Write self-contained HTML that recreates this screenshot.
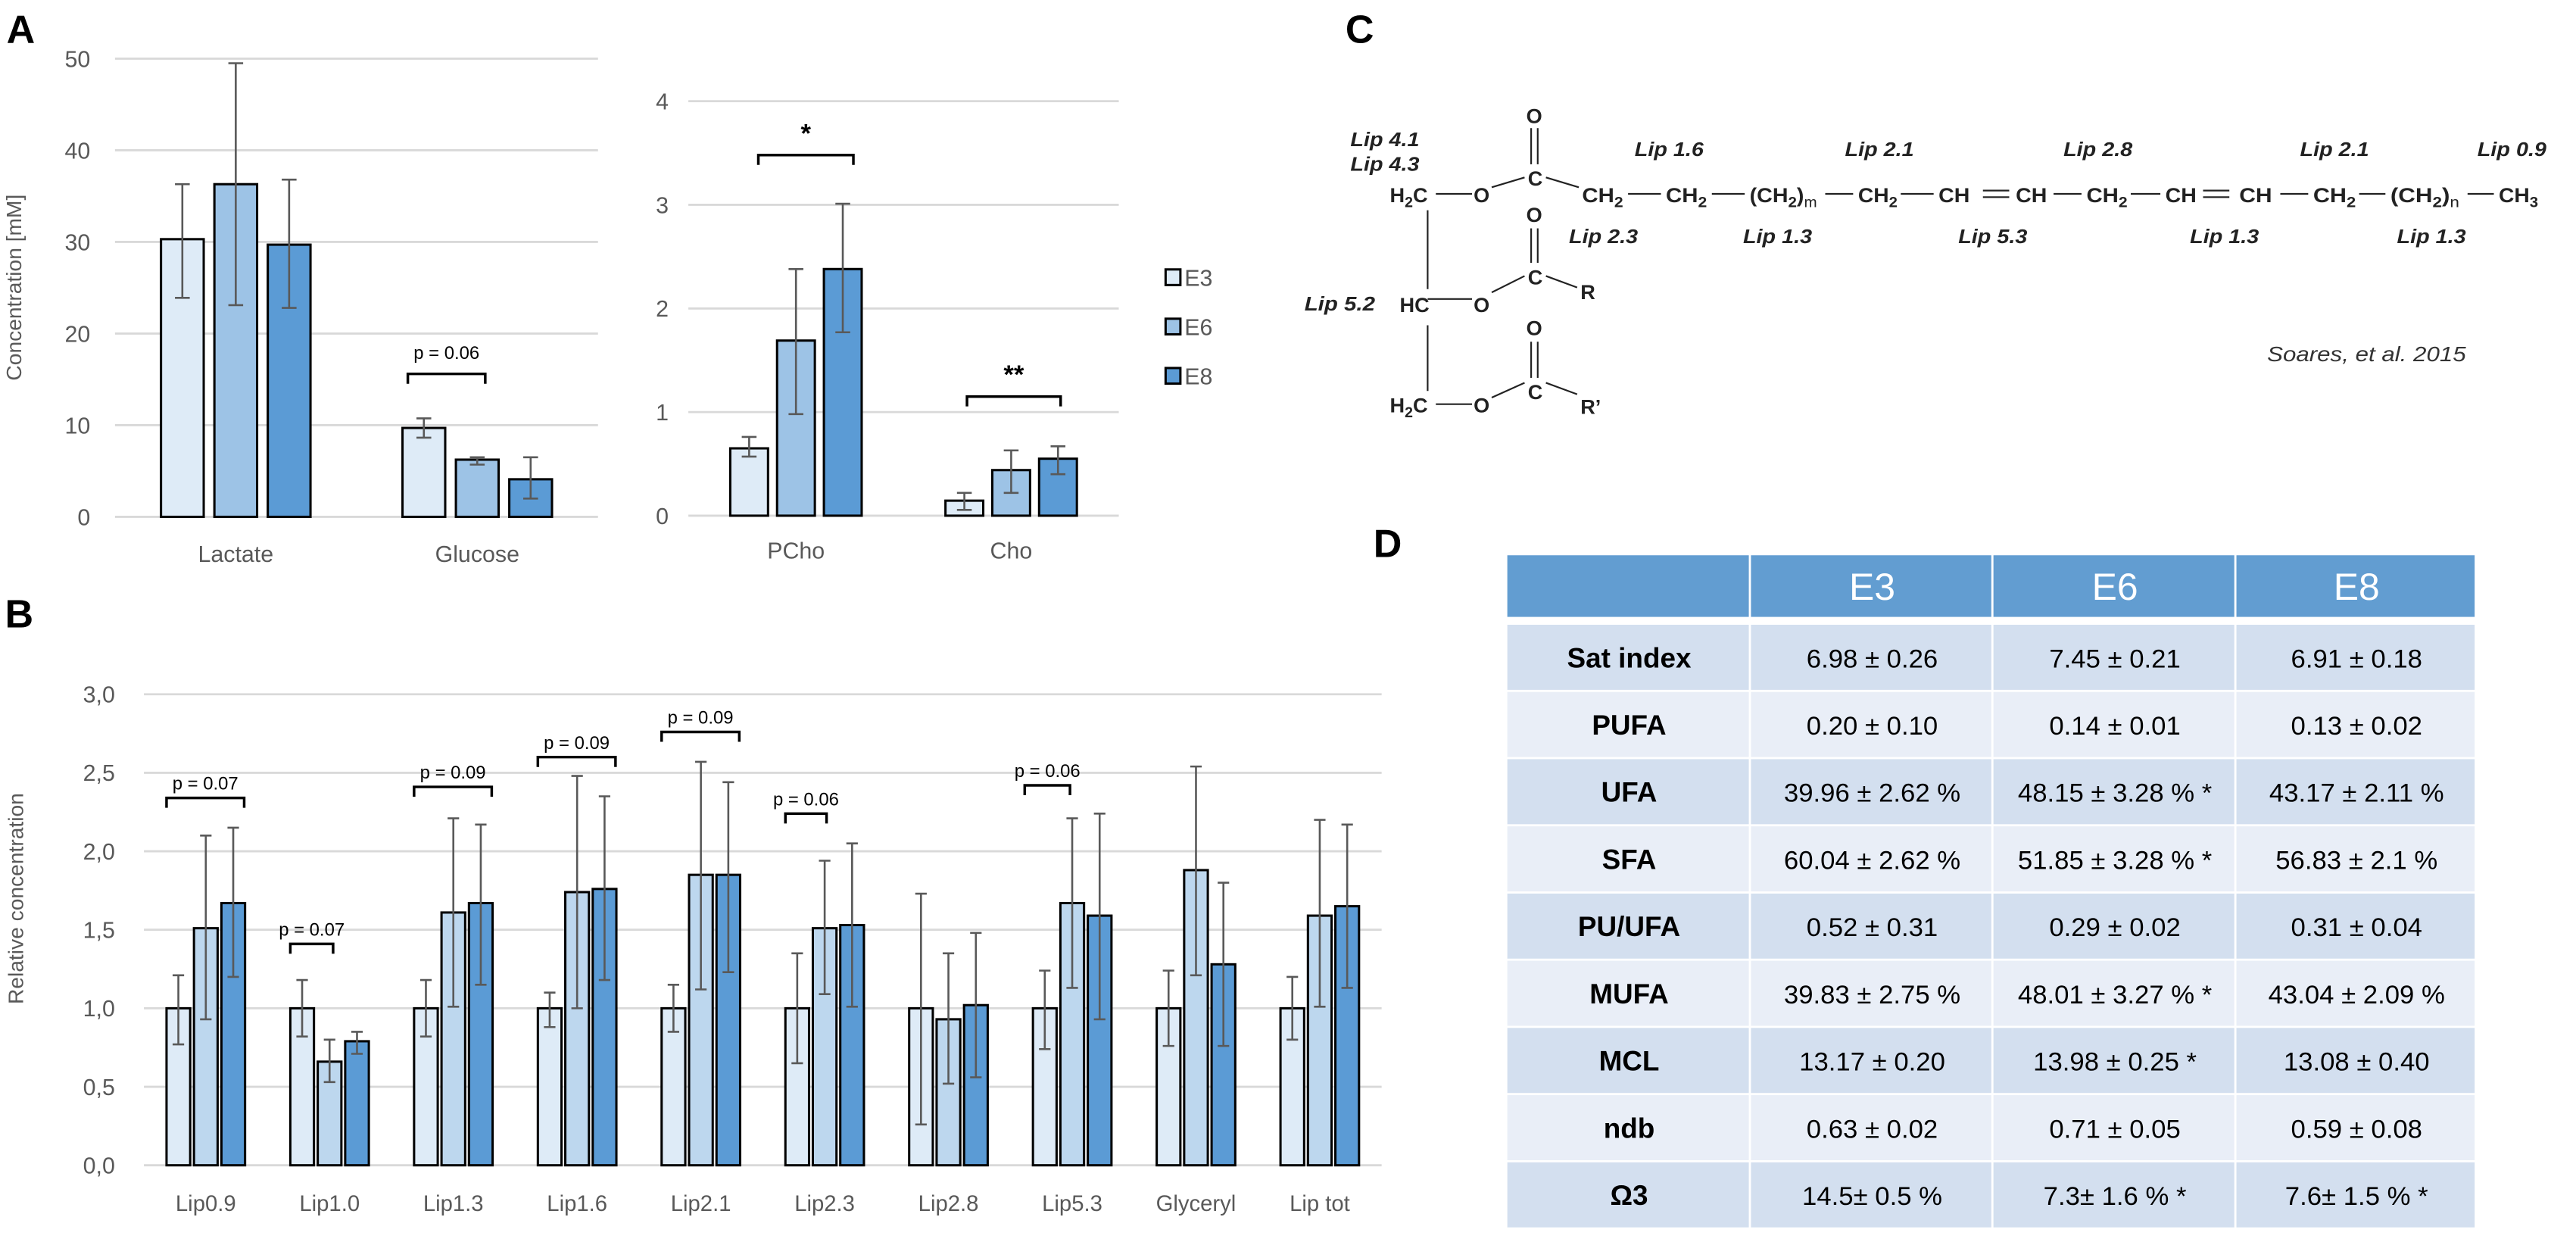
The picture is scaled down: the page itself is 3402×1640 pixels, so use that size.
<!DOCTYPE html>
<html><head><meta charset="utf-8">
<style>
html,body{margin:0;padding:0;background:#fff;}
svg{display:block;}
text{font-family:"Liberation Sans",sans-serif;}
</style></head>
<body>
<svg id="fig" xmlns="http://www.w3.org/2000/svg" width="3402" height="1640" viewBox="0 0 1568 756" preserveAspectRatio="none">
<rect x="0" y="0" width="1568" height="756" fill="#fff"/>
<g font-weight="bold" font-size="24" fill="#000">
<text x="4" y="26">A</text>
<text x="3" y="382">B</text>
<text x="819" y="26">C</text>
<text x="836" y="339">D</text>
</g>
<g id="chartA1"></g>
<g id="chartA2"></g>
<g id="legendA"></g>
<g id="chartB"></g>

<!-- Panel C: structure -->
<g fill="#222" font-weight="bold" font-size="12.5">
<g font-style="italic" font-size="12">
<text x="822" y="89" textLength="42" lengthAdjust="spacingAndGlyphs">Lip 4.1</text>
<text x="822" y="104" textLength="42" lengthAdjust="spacingAndGlyphs">Lip 4.3</text>
<text x="794" y="189" textLength="43" lengthAdjust="spacingAndGlyphs">Lip 5.2</text>
<text x="995" y="95" textLength="42" lengthAdjust="spacingAndGlyphs">Lip 1.6</text>
<text x="1123" y="95" textLength="42" lengthAdjust="spacingAndGlyphs">Lip 2.1</text>
<text x="1256" y="95" textLength="42" lengthAdjust="spacingAndGlyphs">Lip 2.8</text>
<text x="1400" y="95" textLength="42" lengthAdjust="spacingAndGlyphs">Lip 2.1</text>
<text x="1508" y="95" textLength="42" lengthAdjust="spacingAndGlyphs">Lip 0.9</text>
<text x="955" y="148" textLength="42" lengthAdjust="spacingAndGlyphs">Lip 2.3</text>
<text x="1061" y="148" textLength="42" lengthAdjust="spacingAndGlyphs">Lip 1.3</text>
<text x="1192" y="148" textLength="42" lengthAdjust="spacingAndGlyphs">Lip 5.3</text>
<text x="1333" y="148" textLength="42" lengthAdjust="spacingAndGlyphs">Lip 1.3</text>
<text x="1459" y="148" textLength="42" lengthAdjust="spacingAndGlyphs">Lip 1.3</text>
</g>
<g>
<text x="846" y="123">H<tspan font-size="9" dy="3">2</tspan><tspan dy="-3">C</tspan></text>
<text x="897" y="123">O</text>
<text x="929" y="75">O</text>
<text x="930" y="113">C</text>
<text x="963" y="123" textLength="25" lengthAdjust="spacingAndGlyphs">CH<tspan font-size="9" dy="3">2</tspan></text>
<text x="1014" y="123" textLength="25" lengthAdjust="spacingAndGlyphs">CH<tspan font-size="9" dy="3">2</tspan></text>
<text x="1065" y="123" textLength="41" lengthAdjust="spacingAndGlyphs">(CH<tspan font-size="9" dy="3">2</tspan><tspan dy="-3">)</tspan><tspan font-size="9" dy="3" font-weight="normal">m</tspan></text>
<text x="1131" y="123" textLength="24" lengthAdjust="spacingAndGlyphs">CH<tspan font-size="9" dy="3">2</tspan></text>
<text x="1180" y="123" textLength="19" lengthAdjust="spacingAndGlyphs">CH</text>
<text x="1227" y="123" textLength="19" lengthAdjust="spacingAndGlyphs">CH</text>
<text x="1270" y="123" textLength="25" lengthAdjust="spacingAndGlyphs">CH<tspan font-size="9" dy="3">2</tspan></text>
<text x="1318" y="123" textLength="19" lengthAdjust="spacingAndGlyphs">CH</text>
<text x="1363" y="123" textLength="20" lengthAdjust="spacingAndGlyphs">CH</text>
<text x="1408" y="123" textLength="26" lengthAdjust="spacingAndGlyphs">CH<tspan font-size="9" dy="3">2</tspan></text>
<text x="1455" y="123" textLength="42" lengthAdjust="spacingAndGlyphs">(CH<tspan font-size="9" dy="3">2</tspan><tspan dy="-3">)</tspan><tspan font-size="9" dy="3" font-weight="normal">n</tspan></text>
<text x="1521" y="123" textLength="24" lengthAdjust="spacingAndGlyphs">CH<tspan font-size="9" dy="3">3</tspan></text>
<text x="929" y="135">O</text>
<text x="930" y="173">C</text>
<text x="962" y="182">R</text>
<text x="852" y="190">HC</text>
<text x="897" y="190">O</text>
<text x="929" y="204">O</text>
<text x="930" y="243">C</text>
<text x="962" y="252">R’</text>
<text x="846" y="251">H<tspan font-size="9" dy="3">2</tspan><tspan dy="-3">C</tspan></text>
<text x="897" y="251">O</text>
</g>
<g stroke="#222" stroke-width="1" fill="none">
<line x1="874" y1="118" x2="896" y2="118"/>
<line x1="908" y1="114" x2="928" y2="108"/>
<line x1="941" y1="108" x2="961" y2="114"/>
<line x1="932" y1="78" x2="932" y2="100"/><line x1="936" y1="78" x2="936" y2="100"/>
<line x1="991" y1="118" x2="1011" y2="118"/>
<line x1="1042" y1="118" x2="1062" y2="118"/>
<line x1="1111" y1="118" x2="1128" y2="118"/>
<line x1="1157" y1="118" x2="1177" y2="118"/>
<line x1="1207" y1="116" x2="1223" y2="116"/><line x1="1207" y1="120" x2="1223" y2="120"/>
<line x1="1250" y1="118" x2="1267" y2="118"/>
<line x1="1297" y1="118" x2="1315" y2="118"/>
<line x1="1341" y1="116" x2="1357" y2="116"/><line x1="1341" y1="120" x2="1357" y2="120"/>
<line x1="1388" y1="118" x2="1405" y2="118"/>
<line x1="1436" y1="118" x2="1452" y2="118"/>
<line x1="1502" y1="118" x2="1518" y2="118"/>
<line x1="869" y1="128" x2="869" y2="176"/>
<line x1="869" y1="198" x2="869" y2="238"/>
<line x1="932" y1="139" x2="932" y2="160"/><line x1="936" y1="139" x2="936" y2="160"/>
<line x1="869" y1="182" x2="896" y2="182"/>
<line x1="908" y1="178" x2="928" y2="168"/>
<line x1="941" y1="168" x2="960" y2="175"/>
<line x1="932" y1="208" x2="932" y2="230"/><line x1="936" y1="208" x2="936" y2="230"/>
<line x1="874" y1="246" x2="896" y2="246"/>
<line x1="908" y1="242" x2="928" y2="233"/>
<line x1="941" y1="233" x2="960" y2="240"/>
</g>
<text x="1380" y="220" font-weight="normal" font-style="italic" font-size="13" fill="#333" textLength="121" lengthAdjust="spacingAndGlyphs">Soares, et al. 2015</text>
</g>

<g id="tableD"></g>

<script>
var NS='http://www.w3.org/2000/svg';
function mk(parent,tag,attrs,txt){var e=document.createElementNS(NS,tag);for(var k in attrs)e.setAttribute(k,attrs[k]);if(txt!==undefined)e.textContent=txt;parent.appendChild(e);return e;}

// ---------- data ----------
var seriesNames=['E3','E6','E8'];
var a1Categories=['Lactate','Glucose'];
var a1Values=[[30.3,9.7],[36.3,6.24],[29.7,4.1]];
var a1ErrHi=[[36.3,10.75],[49.5,6.5],[36.8,6.5]];
var a1ErrLo=[[23.9,8.64],[23.1,5.7],[22.8,2.0]];
var a1Ticks=[0,10,20,30,40,50];
var a1TickLabels=['0','10','20','30','40','50'];

var a2Categories=['PCho','Cho'];
var a2Values=[[0.65,0.145],[1.69,0.44],[2.38,0.55]];
var a2ErrHi=[[0.76,0.22],[2.38,0.63],[3.01,0.67]];
var a2ErrLo=[[0.57,0.056],[0.98,0.22],[1.77,0.40]];
var a2Ticks=[0,1,2,3,4];
var a2TickLabels=['0','1','2','3','4'];

var bCategories=['Lip0.9','Lip1.0','Lip1.3','Lip1.6','Lip2.1','Lip2.3','Lip2.8','Lip5.3','Glyceryl','Lip tot'];
var bE3=[1,1,1,1,1,1,1,1,1,1];
var bE6=[1.51,0.66,1.61,1.74,1.85,1.51,0.93,1.67,1.88,1.59];
var bE8=[1.67,0.79,1.67,1.76,1.85,1.53,1.02,1.59,1.28,1.65];
var bE3Hi=[1.21,1.18,1.18,1.10,1.15,1.35,1.73,1.24,1.24,1.20];
var bE3Lo=[0.77,0.82,0.82,0.88,0.85,0.65,0.26,0.74,0.76,0.80];
var bE6Hi=[2.10,0.80,2.21,2.48,2.57,1.94,1.35,2.21,2.54,2.20];
var bE6Lo=[0.93,0.53,1.01,1.00,1.12,1.09,0.52,1.13,1.21,1.01];
var bE8Hi=[2.15,0.85,2.17,2.35,2.44,2.05,1.48,2.24,1.80,2.17];
var bE8Lo=[1.20,0.71,1.15,1.18,1.23,1.01,0.56,0.93,0.76,1.13];
var bTicks=[0,0.5,1,1.5,2,2.5,3];
var bTickLabels=['0,0','0,5','1,0','1,5','2,0','2,5','3,0'];
// significance brackets: category index, level, label, span (in bar-step units from group left)
var bBracketCat=[0,1,2,3,4,5,7];
var bBracketLevel=[2.34,1.41,2.41,2.60,2.76,2.24,2.42];
var bBracketLabel=['p = 0.07','p = 0.07','p = 0.09','p = 0.09','p = 0.09','p = 0.06','p = 0.06'];
var bBracketFrom=[0,0,0,0,0,0,-0.3];
var bBracketTo=[2.83,1.56,2.83,2.83,2.83,1.5,1.35];

var a1BracketCat=[1],a1BracketLevel=[15.6],a1BracketLabel=['p = 0.06'];
var a1BracketFrom=[0.1],a1BracketTo=[1.55];
var a2BracketCat=[0,1],a2BracketLevel=[3.48,1.15],a2BracketLabel=['*','**'];
var a2BracketFrom=[0.6,0.46],a2BracketTo=[2.63,2.46];

// ---------- generic bar chart ----------
function barChart(g,o){
  var sy=function(v){return o.y0-(v-o.vmin)/(o.vmax-o.vmin)*(o.y0-o.y1);};
  var band=(o.x1-o.x0)/o.cats.length;
  var grid=mk(g,'g',{});
  
  
  o.ticks.forEach(function(t,i){
    var y=sy(t);
    var l=mk(grid,'line',{x1:o.x0,x2:o.x1,y1:y,y2:y,stroke:'#d9d9d9','stroke-width':1.3});
    
    
    var tx=mk(g,'text',{x:o.tickX,y:y+5,'text-anchor':'end','font-size':o.tickFs,fill:'#595959'},o.tickLabels[i]);
    
    
  });
  if(o.title){
  var yt=mk(g,'text',{x:0,y:0,transform:'translate('+o.titleX+','+o.titleY+') rotate(-90)','text-anchor':'middle','font-size':o.titleFs,fill:'#595959'},o.title);
  
  
  }
  var gw=o.bw*3+o.gap*2;
  var step=o.bw+o.gap;
  function groupLeft(ci){return o.x0+band*ci+band/2-gw/2;}
  function barX(ci,si){return groupLeft(ci)+si*step;}
  o.cats.forEach(function(c,ci){
    var cl=mk(g,'text',{x:o.x0+band*ci+band/2,y:o.labelY,'text-anchor':'middle','font-size':o.catFs,fill:'#595959'},c);
    
    
    for(var si=0;si<3;si++){
      var v=o.vals[si][ci],x=barX(ci,si),y=sy(v);
      var r=mk(g,'rect',{x:x,y:y,width:o.bw,height:o.y0-y,fill:o.colors[si],stroke:'#000','stroke-width':1.4});
      
      
      var cx=x+o.bw/2,yh=sy(o.hi[si][ci]),yl=sy(o.lo[si][ci]);
      var eb=mk(g,'path',{d:'M'+cx+' '+yh+'V'+yl+'M'+(cx-o.cap)+' '+yh+'H'+(cx+o.cap)+'M'+(cx-o.cap)+' '+yl+'H'+(cx+o.cap),stroke:'#595959','stroke-width':1.2,fill:'none'});
      
      
    }
  });
  (o.brCat||[]).forEach(function(ci,i){
    var y=sy(o.brLevel[i]);
    var xa=groupLeft(ci)+o.brFrom[i]*step, xb=groupLeft(ci)+o.brTo[i]*step;
    var p=mk(g,'path',{d:'M'+xa+' '+(y+o.brH)+'V'+y+'H'+xb+'V'+(y+o.brH),stroke:'#000','stroke-width':1.6,fill:'none'});
    
    
    var star=o.brLabel[i].indexOf('*')===0;
    var t=mk(g,'text',{x:(xa+xb)/2,y:y-(star?o.starOff:o.labOff),'text-anchor':'middle','font-size':star?16:o.brFs,'font-weight':star?'bold':'normal',fill:'#000'},o.brLabel[i]);
    
    
  });
}

barChart(document.getElementById('chartA1'),{x0:70,x1:364,y0:314.6,y1:35.7,vmin:0,vmax:50,ticks:a1Ticks,tickLabels:a1TickLabels,tickX:55,tickFs:14,
  title:'Concentration [mM]',titleX:13,titleY:175,titleFs:13,cats:a1Categories,vals:a1Values,hi:a1ErrHi,lo:a1ErrLo,bw:26,gap:6.5,cap:4.5,
  colors:['#deebf7','#9dc3e6','#5b9bd5'],labelY:342,catFs:14,brCat:a1BracketCat,brLevel:a1BracketLevel,brLabel:a1BracketLabel,brFrom:a1BracketFrom,brTo:a1BracketTo,brH:6,brFs:11,labOff:9,starOff:8});
barChart(document.getElementById('chartA2'),{x0:419,x1:681,y0:313.9,y1:61.6,vmin:0,vmax:4,ticks:a2Ticks,tickLabels:a2TickLabels,tickX:407,tickFs:14,
  title:'',titleX:0,titleY:0,titleFs:13,cats:a2Categories,vals:a2Values,hi:a2ErrHi,lo:a2ErrLo,bw:23,gap:5.5,cap:4.5,
  colors:['#deebf7','#9dc3e6','#5b9bd5'],labelY:340,catFs:14,brCat:a2BracketCat,brLevel:a2BracketLevel,brLabel:a2BracketLabel,brFrom:a2BracketFrom,brTo:a2BracketTo,brH:6,brFs:11,labOff:9,starOff:8});
barChart(document.getElementById('chartB'),{x0:87.6,x1:841,y0:709.3,y1:422.6,vmin:0,vmax:3,ticks:bTicks,tickLabels:bTickLabels,tickX:70,tickFs:14,
  title:'Relative concentration',titleX:14,titleY:547,titleFs:13,cats:bCategories,vals:[bE3,bE6,bE8],hi:[bE3Hi,bE6Hi,bE8Hi],lo:[bE3Lo,bE6Lo,bE8Lo],bw:14.4,gap:2.3,cap:3.5,
  colors:['#deebf7','#bdd7ee','#5b9bd5'],labelY:737,catFs:13.5,brCat:bBracketCat,brLevel:bBracketLevel,brLabel:bBracketLabel,brFrom:bBracketFrom,brTo:bBracketTo,brH:6,brFs:11,labOff:5,starOff:8});

// legend
(function(){
  var g=document.getElementById('legendA');
  var cols=['#deebf7','#9dc3e6','#5b9bd5'],ys=[164,194,224];
  seriesNames.forEach(function(n,i){
    var r=mk(g,'rect',{x:709.5,y:ys[i],width:9,height:9.5,fill:cols[i],stroke:'#000','stroke-width':1.4});
    
    
    var t=mk(g,'text',{x:721,y:ys[i]+10,'font-size':14,fill:'#595959'},n);
    
    
  });
})();

// table
var tHeader=['','E3','E6','E8'];
var tRowLabels=['Sat index','PUFA','UFA','SFA','PU/UFA','MUFA','MCL','ndb','Ω3'];
var tE3=['6.98 ± 0.26','0.20 ± 0.10','39.96 ± 2.62 %','60.04 ± 2.62 %','0.52 ± 0.31','39.83 ± 2.75 %','13.17 ± 0.20','0.63 ± 0.02','14.5± 0.5 %'];
var tE6=['7.45 ± 0.21','0.14 ± 0.01','48.15 ± 3.28 % *','51.85 ± 3.28 % *','0.29 ± 0.02','48.01 ± 3.27 % *','13.98 ± 0.25 *','0.71 ± 0.05','7.3± 1.6 % *'];
var tE8=['6.91 ± 0.18','0.13 ± 0.02','43.17 ± 2.11 %','56.83 ± 2.1 %','0.31 ± 0.04','43.04 ± 2.09 %','13.08 ± 0.40','0.59 ± 0.08','7.6± 1.5 % *'];
(function(){
  var g=document.getElementById('tableD');
  var cx=[917.5,1065.8,1213.4,1361.3,1507.6];
  var hTop=338,hBot=375.5,rTop=380.3,rH=40.9;
  for(var c=0;c<4;c++){
    var r=mk(g,'rect',{x:cx[c],y:hTop,width:cx[c+1]-cx[c]-1.3,height:hBot-hTop,fill:'#629dd1'});
    
    
    if(tHeader[c]){var t=mk(g,'text',{x:(cx[c]+cx[c+1])/2,y:365,'text-anchor':'middle','font-size':23,fill:'#fff'},tHeader[c]);
      
      }
  }
  tRowLabels.forEach(function(lab,ri){
    var y=rTop+ri*rH;
    var fill=ri%2===0?'#d3dfef':'#e9eef7';
    var cells=[lab,tE3[ri],tE6[ri],tE8[ri]];
    for(var c=0;c<4;c++){
      var r=mk(g,'rect',{x:cx[c],y:y,width:cx[c+1]-cx[c]-1.3,height:rH-1.3,fill:fill});
      
      
      var t=mk(g,'text',{x:(cx[c]+cx[c+1])/2,y:y+rH/2+5.5,'text-anchor':'middle','font-size':c===0?17:16,'font-weight':c===0?'bold':'normal',fill:'#000'},cells[c]);
      
      
    }
  });
})();
</script>
</svg>
</body></html>
